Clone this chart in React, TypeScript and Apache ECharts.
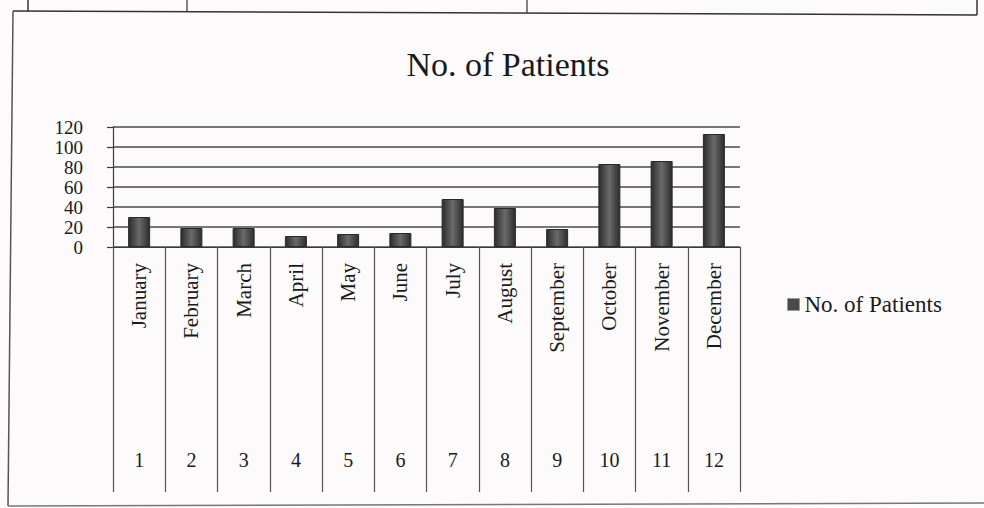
import React, { useEffect, useRef } from "react";
import * as echarts from "echarts";

const months = ["January", "February", "March", "April", "May", "June", "July", "August", "September", "October", "November", "December"];
const monthNumbers = ["1", "2", "3", "4", "5", "6", "7", "8", "9", "10", "11", "12"];
const patients = [30, 19, 19, 11, 13, 14, 48, 39, 18, 83, 86, 113];
const seriesName = "No. of Patients";

const FONT = "'Liberation Serif', 'DejaVu Serif', serif";

export default function App() {
  const ref = useRef<HTMLDivElement>(null);
  useEffect(() => {
    if (!ref.current) return;
    const chart = echarts.init(ref.current, undefined, { renderer: "svg" });
    const line = "#3a3a3a";
    chart.setOption({
      animation: false,
      backgroundColor: "#fdfafb",
      title: {
        text: "No. of Patients",
        left: 503,
        textAlign: "center",
        top: 42,
        textStyle: { fontFamily: FONT, fontSize: 34, fontWeight: "normal", color: "#1a1a1a" },
      },
      legend: {
        data: [{ name: seriesName, itemStyle: { color: "#4a4a4a", borderColor: "#999", borderWidth: 1 } }],
        left: 782,
        top: 288,
        icon: "rect",
        itemWidth: 12,
        itemHeight: 12,
        itemGap: 6,
        textStyle: { fontFamily: FONT, fontSize: 23, color: "#1a1a1a" },
      },
      grid: { left: 113, right: 244, top: 127, bottom: 261, containLabel: false },
      xAxis: [
        {
          type: "category",
          data: months,
          position: "bottom",
          axisLine: { show: true, lineStyle: { color: line, width: 1.2 } },
          axisTick: { show: true, alignWithLabel: false, interval: 0, length: 245, lineStyle: { color: "#555", width: 1.2 } },
          axisLabel: {
            interval: 0,
            rotate: 90,
            margin: 16,
            fontFamily: FONT,
            fontSize: 21,
            color: "#1a1a1a",
          },
        },
        {
          type: "category",
          data: monthNumbers,
          position: "bottom",
          offset: 195,
          axisLine: { show: false },
          axisTick: { show: false },
          axisLabel: { interval: 0, margin: 8, fontFamily: FONT, fontSize: 20, color: "#1a1a1a" },
        },
      ],
      yAxis: {
        type: "value",
        min: 0,
        max: 120,
        interval: 20,
        axisLine: { show: true, lineStyle: { color: line, width: 1.2 } },
        axisTick: { show: true, length: 6, lineStyle: { color: line, width: 1.2 } },
        axisLabel: {
          margin: 30,
          fontFamily: FONT,
          fontSize: 19,
          color: "#1a1a1a",
          showMinLabel: true,
          showMaxLabel: true,
          hideOverlap: false,
        },
        splitLine: { show: true, lineStyle: { color: "#4a4a4a", width: 1.5 } },
      },
      series: [
        {
          name: seriesName,
          type: "bar",
          xAxisIndex: 0,
          data: patients,
          barWidth: 22,
          itemStyle: {
            borderColor: "#2a2a2a",
            borderWidth: 1,
            color: new echarts.graphic.LinearGradient(0, 0, 1, 0, [
              { offset: 0, color: "#2c2c2c" },
              { offset: 0.5, color: "#6a6a6a" },
              { offset: 1, color: "#2c2c2c" },
            ]),
          },
        },
      ],
      graphic: [
        { type: "line", shape: { x1: 13, y1: 11, x2: 977, y2: 15 }, style: { stroke: "#333", lineWidth: 1.5 } },
        { type: "line", shape: { x1: 28, y1: 0, x2: 28, y2: 11 }, style: { stroke: "#333", lineWidth: 1.5 } },
        { type: "line", shape: { x1: 187, y1: 0, x2: 187, y2: 12 }, style: { stroke: "#333", lineWidth: 1.2 } },
        { type: "line", shape: { x1: 527, y1: 0, x2: 527, y2: 13 }, style: { stroke: "#333", lineWidth: 1.2 } },
        { type: "line", shape: { x1: 977, y1: 0, x2: 977, y2: 15 }, style: { stroke: "#333", lineWidth: 1.5 } },
        { type: "line", shape: { x1: 13, y1: 11, x2: 8, y2: 506 }, style: { stroke: "#555", lineWidth: 1.5 } },
        { type: "line", shape: { x1: 8, y1: 506, x2: 984, y2: 503 }, style: { stroke: "#777", lineWidth: 1.5 } },
      ],
    });
    return () => chart.dispose();
  }, []);
  return <div ref={ref} style={{ position: "fixed", left: 0, top: 0, width: 984, height: 508 }} />;
}
